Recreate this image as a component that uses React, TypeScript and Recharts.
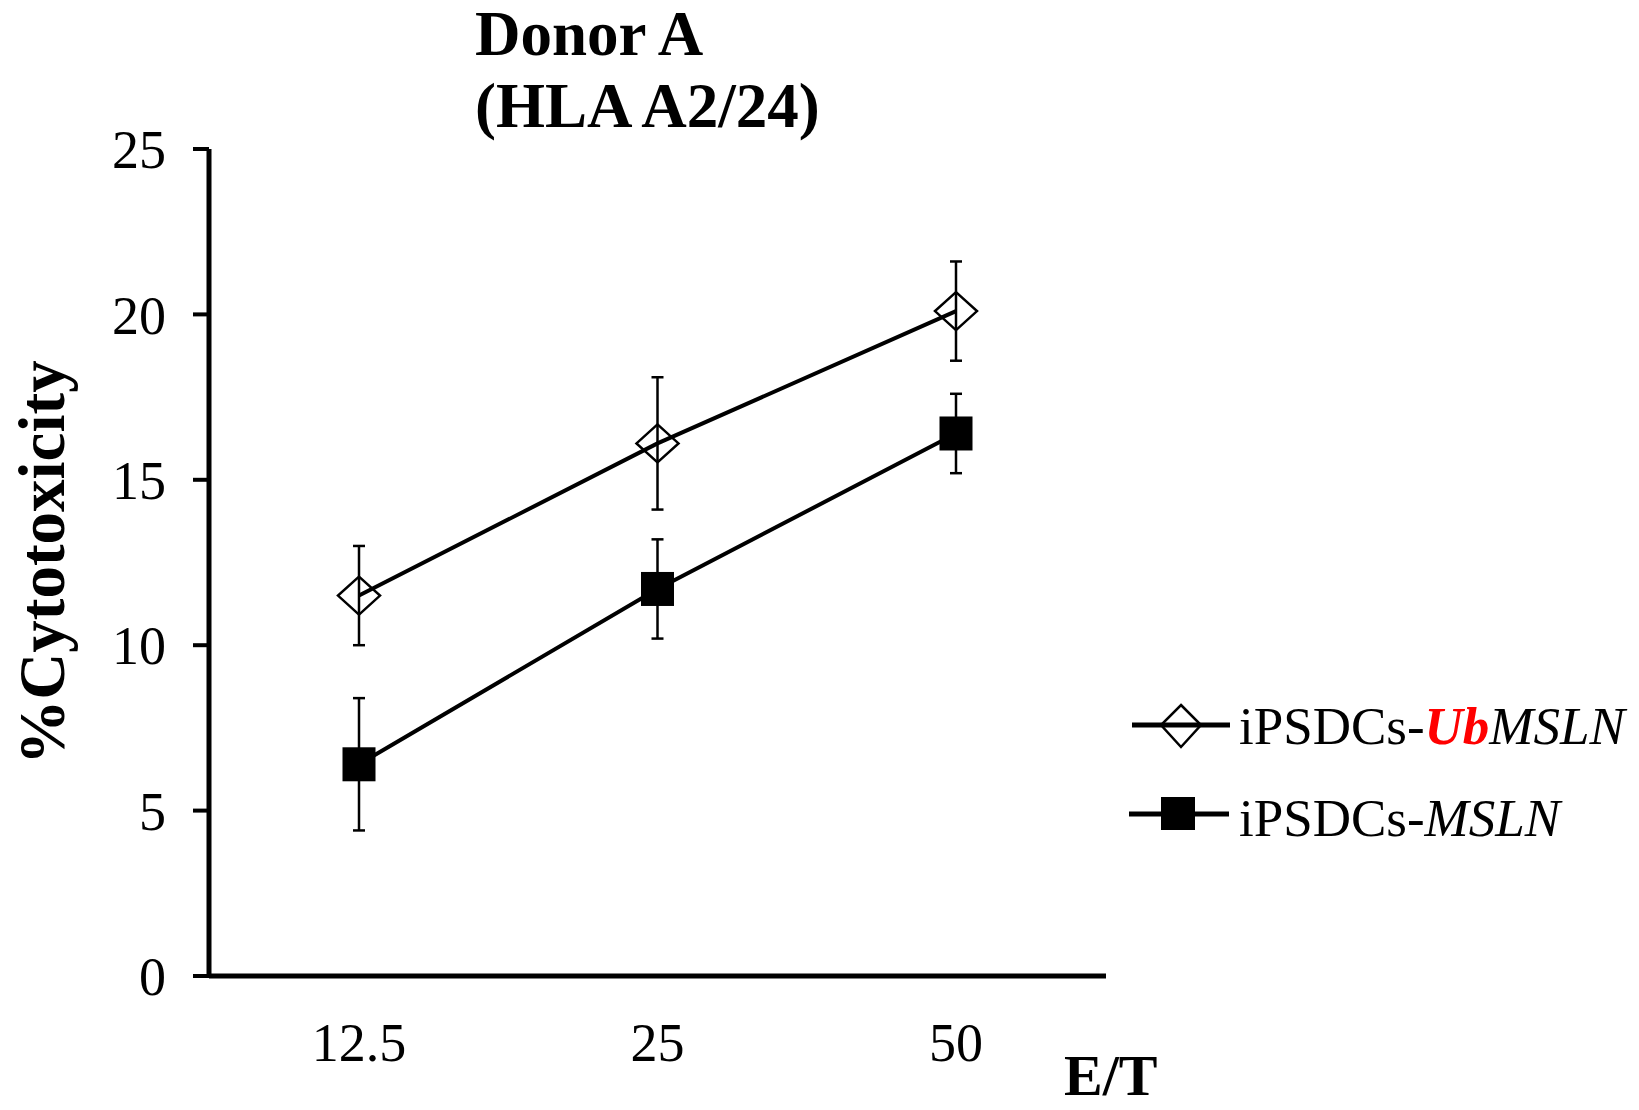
import React from 'react';
import { LineChart, Line, XAxis, YAxis, ErrorBar, Legend, Label, Customized } from 'recharts';

const FONT = "'Liberation Serif', 'Times New Roman', serif";

// E/T ratios on the x axis
const etRatios = ['12.5', '25', '50'];

// iPSDCs-UbMSLN (open diamond)
const ubMslnMean = [11.5, 16.1, 20.1];
const ubMslnErr = [1.5, 2.0, 1.5];

// iPSDCs-MSLN (filled square)
const mslnMean = [6.4, 11.7, 16.4];
const mslnErr = [2.0, 1.5, 1.2];

const yTicks = [0, 5, 10, 15, 20, 25];

const chartData = etRatios.map((et, i) => ({
  et,
  ubMsln: ubMslnMean[i],
  ubMslnErr: ubMslnErr[i],
  msln: mslnMean[i],
  mslnErr: mslnErr[i],
}));

const DiamondDot = (props: any) => {
  const { cx, cy, index } = props;
  if (cx == null || cy == null) return null;
  return (
    <path
      key={`diamond-${index}`}
      d={`M${cx},${cy - 19} L${cx + 21},${cy} L${cx},${cy + 19} L${cx - 21},${cy} Z`}
      fill="none"
      stroke="#000"
      strokeWidth={2.5}
    />
  );
};

const SquareDot = (props: any) => {
  const { cx, cy, index } = props;
  if (cx == null || cy == null) return null;
  return <rect key={`square-${index}`} x={cx - 16.5} y={cy - 17} width={33} height={34} fill="#000" />;
};

const renderLegend = () => (
  <svg width={519} height={180} style={{ display: 'block' }}>
    {/* UbMSLN row */}
    <line x1={12} x2={110} y1={45} y2={45} stroke="#000" strokeWidth={5} />
    <path d="M61,25 L81,45 L61,67 L41,45 Z" fill="none" stroke="#000" strokeWidth={2.5} />
    <text x={119} y={64} fontSize={53} fontFamily={FONT} fill="#000">
      iPSDCs-
      <tspan fill="#ff0000" fontWeight="bold" fontStyle="italic">Ub</tspan>
      <tspan fontStyle="italic">MSLN</tspan>
    </text>
    {/* MSLN row */}
    <line x1={9} x2={109} y1={134} y2={134} stroke="#000" strokeWidth={5} />
    <rect x={41} y={117} width={34} height={33} fill="#000" />
    <text x={119} y={156} fontSize={53} fontFamily={FONT} fill="#000">
      iPSDCs-<tspan fontStyle="italic">MSLN</tspan>
    </text>
  </svg>
);

const Title = () => (
  <g>
    <text x={475} y={55} fontSize={63} fontWeight="bold" fontFamily={FONT} fill="#000">
      Donor A
    </text>
    <text x={475} y={127} fontSize={63} fontWeight="bold" fontFamily={FONT} fill="#000">
      (HLA A2/24)
    </text>
  </g>
);

const YAxisTitle = (props: any) => {
  const { viewBox } = props;
  const cy = viewBox.y + viewBox.height / 2;
  return (
    <text
      x={64}
      y={cy}
      transform={`rotate(-90, 64, ${cy})`}
      textAnchor="middle"
      fontSize={65}
      fontWeight="bold"
      fontFamily={FONT}
      fill="#000"
    >
      %Cytotoxicity
    </text>
  );
};

const XAxisTitle = () => (
  <text x={1064} y={1095} fontSize={58} fontWeight="bold" fontFamily={FONT} fill="#000">
    E/T
  </text>
);

export default function App() {
  return (
    <div style={{ position: 'absolute', left: 0, top: 0, width: 1639, height: 1110, background: '#fff' }}>
      <LineChart width={1639} height={1110} data={chartData} margin={{ top: 149, right: 533, bottom: 0, left: 0 }}>
        <XAxis
          dataKey="et"
          height={134}
          padding={{ left: 150, right: 150 }}
          tickLine={false}
          tickSize={0}
          tickMargin={47}
          axisLine={{ stroke: '#000', strokeWidth: 5 }}
          tick={{ fill: '#000', fontSize: 54, fontFamily: FONT }}
        >
          <Label content={XAxisTitle} />
        </XAxis>
        <YAxis
          type="number"
          width={209}
          domain={[0, 25]}
          ticks={yTicks}
          interval={0}
          tickSize={16}
          tickMargin={27}
          axisLine={{ stroke: '#000', strokeWidth: 5 }}
          tickLine={{ stroke: '#000', strokeWidth: 4 }}
          tick={{ fill: '#000', fontSize: 54, fontFamily: FONT }}
        >
          <Label content={YAxisTitle} />
        </YAxis>
        <Legend
          layout="horizontal"
          verticalAlign="middle"
          align="center"
          content={renderLegend}
          wrapperStyle={{ left: 1120, top: 680, width: 519, height: 180 }}
        />
        <Line
          dataKey="ubMsln"
          name="iPSDCs-UbMSLN"
          stroke="#000"
          strokeWidth={4}
          dot={DiamondDot}
          activeDot={false}
          isAnimationActive={false}
        >
          <ErrorBar dataKey="ubMslnErr" direction="y" width={6} stroke="#000" strokeWidth={2.5} />
        </Line>
        <Line
          dataKey="msln"
          name="iPSDCs-MSLN"
          stroke="#000"
          strokeWidth={4}
          dot={SquareDot}
          activeDot={false}
          isAnimationActive={false}
        >
          <ErrorBar dataKey="mslnErr" direction="y" width={6} stroke="#000" strokeWidth={2.5} />
        </Line>
        <Customized component={Title} />
      </LineChart>
    </div>
  );
}
